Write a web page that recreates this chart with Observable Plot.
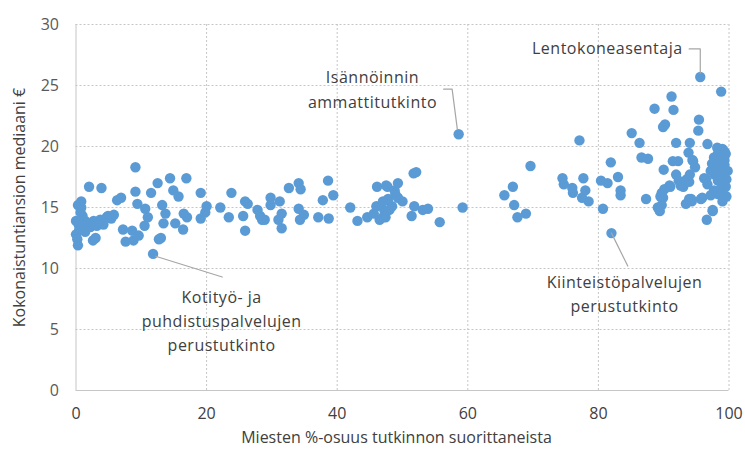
<!DOCTYPE html>
<html><head><meta charset="utf-8">
<script src="https://cdn.jsdelivr.net/npm/d3@7"></script>
<script src="https://cdn.jsdelivr.net/npm/@observablehq/plot@0.6"></script>
<style>body{margin:0;background:#fff} #chart svg{display:block} .anno text{letter-spacing:0.5px}</style>
</head><body><div id="chart"></div>
<script>
// Men's share of qualification completers (%)
const menShare = [
0.8,0.8,0.7,0.0,0.4,1.4,2.7,3.7,4.7,5.8,2.2,3.2,4.2,0.0,1.4,3.0,0.3,2.0,3.9,6.3,6.9,9.1,9.1,9.4,10.6,11.0,11.5,12.5,13.2,13.7,13.4,14.4,14.9,15.2,15.7,16.5,16.9,17.0,16.4,19.1,19.1,19.8,20.0,22.1,23.4,23.8,7.2,8.6,9.6,7.6,8.8,10.5,12.7,13.0,11.8,0.5,0.2,1.0,0.9,0.3,4.9,5.4,2.6,
25.6,25.9,26.3,25.9,27.8,28.2,28.5,28.9,29.8,29.8,31.2,31.0,31.5,31.5,32.6,34.1,34.4,34.1,34.3,34.9,37.1,37.8,38.7,38.6,39.4,42.0,43.1,44.6,46.0,46.1,46.5,47.4,47.7,47.7,48.4,48.9,49.3,
58.6,51.7,52.1,47.5,47.8,49.3,48.8,47.0,47.2,48.0,47.0,51.8,51.4,53.1,53.9,55.7,59.2,65.6,66.9,67.1,67.6,68.9,69.6,45.6,50.0,
74.5,74.7,76.0,76.1,77.1,77.7,78.0,77.5,78.5,80.7,80.4,81.4,81.9,83.0,83.4,83.4,82.0,85.1,86.3,86.6,87.6,87.3,90.0,89.9,90.2,88.6,91.2,91.5,95.4,95.3,91.9,91.4,92.2,91.9,94.0,93.8,94.5,96.7,98.2,89.4,89.1,90.9,90.1,89.9,93.4,93.9,95.9,97.5,96.6,96.5,95.6,98.8,
99.3,94.8,94.0,92.3,93.0,93.5,97.8,98.6,99.3,99.1,91.0,89.7,89.7,94.3,98.3,99.6,
98.5,99.5,97.7,94.4,99.8,97.2,98.0,99.3,99.0,96.2,98.3,99.5,92.6,93.9,96.7,98.5,97.7,99.3,95.7,94.2,89.5,97.5,
99.0,98.0,99.6,98.9,97.2,99.0,98.3,97.4
];
// Median total hourly earnings (€)
const medianWage = [
15.5,15.0,14.6,13.9,13.6,13.9,13.9,14.0,14.2,14.4,13.4,13.5,13.6,12.8,13.0,12.5,11.9,16.7,16.6,15.6,15.8,18.3,16.3,15.3,14.9,14.2,16.2,17.0,15.2,14.5,13.7,17.4,16.4,13.7,15.9,14.5,17.4,14.2,13.2,16.2,14.1,14.6,15.1,15.0,14.2,16.2,13.2,13.1,12.7,12.2,12.3,13.5,12.4,12.5,11.2,13.2,12.4,14.3,13.5,15.2,14.3,14.1,12.3,
14.3,15.5,15.3,13.1,14.8,14.3,14.0,14.0,15.8,15.2,15.5,14.0,14.5,13.3,16.6,17.0,16.5,14.9,14.0,14.4,14.2,15.6,14.1,17.2,16.0,15.0,13.9,14.2,15.1,16.7,14.0,14.2,16.7,15.6,15.1,16.1,17.0,
21.0,17.8,17.9,16.8,15.7,15.8,16.4,15.5,14.8,14.8,14.2,15.1,14.3,14.8,14.9,13.8,15.0,16.0,16.7,15.2,14.2,14.5,18.4,14.5,15.5,
17.4,16.9,16.6,16.2,20.5,17.4,16.4,15.8,15.5,14.9,17.2,17.0,18.7,17.5,16.4,16.0,12.9,21.1,20.3,19.1,19.0,15.7,18.1,21.6,21.8,23.1,24.1,23.0,22.2,21.3,20.3,18.8,18.8,17.7,20.3,19.5,18.8,20.2,19.9,14.7,15.0,16.8,16.5,15.8,15.3,15.7,15.8,14.8,14.0,17.3,25.7,24.5,
19.6,18.3,17.7,17.2,16.7,17.3,17.7,18.0,18.5,19.1,16.7,16.2,15.2,15.5,16.1,15.9,
19.8,19.4,19.1,18.9,18.0,18.0,18.3,18.9,17.8,17.4,17.2,16.7,16.8,17.1,16.9,16.4,16.4,16.0,15.7,15.7,15.9,14.7,
19.8,18.8,17.3,16.9,16.0,15.5,19.4,18.6
];
const xTicks = [0, 20, 40, 60, 80, 100];
const yTicks = [0, 5, 10, 15, 20, 25, 30];
const xTitle = "Miesten %-osuus tutkinnon suorittaneista";
const yTitle = "Kokonaistuntiansion mediaani €";

// Annotation text lines (label, x, y in data units, anchor)
const annoLines = ["Lentokoneasentaja", "Isännöinnin", "ammattitutkinto", "Kotityö- ja", "puhdistuspalvelujen", "perustutkinto", "Kiinteistöpalvelujen", "perustutkinto"];
const annoLineX = [92.9, 45.4, 45.4, 22.3, 22.3, 22.3, 84.0, 84.0];
const annoLineY = [28.0, 25.6, 23.55, 7.6, 5.63, 3.66, 8.85, 6.88];
const annoAnchor = ["end", "middle", "middle", "middle", "middle", "middle", "middle", "middle"];
// Leader lines
const leaderId = [0, 0, 0, 1, 1, 1, 2, 2, 3, 3];
const leaderX = [93.9, 95.6, 95.6, 56.3, 57.6, 58.4, 12.2, 22.4, 82.0, 84.5];
const leaderY = [28.0, 28.0, 26.0, 24.7, 24.7, 21.4, 11.0, 9.3, 12.9, 10.2];

const points = menShare.map((x, i) => ({x, y: medianWage[i]}));
const annos = annoLines.map((t, i) => ({t, x: annoLineX[i], y: annoLineY[i], a: annoAnchor[i]}));
const leaders = leaderId.map((id, i) => ({id, x: leaderX[i], y: leaderY[i]}));

const grey = "#c6c6c6";
const chart = Plot.plot({
  width: 745, height: 453,
  marginLeft: 75.5, marginRight: 16.5, marginTop: 24, marginBottom: 63,
  style: {fontFamily: "'Open Sans', sans-serif", fontSize: "16px", background: "#fff"},
  x: {domain: [0, 100]},
  y: {domain: [0, 30]},
  marks: [
    Plot.gridY(yTicks.filter(d => d > 0), {stroke: grey, strokeOpacity: 1, strokeDasharray: "2,2"}),
    Plot.gridX(xTicks.filter(d => d > 0), {stroke: grey, strokeOpacity: 1, strokeDasharray: "2,2"}),
    Plot.ruleX([0], {stroke: grey}),
    Plot.ruleY([0], {stroke: grey}),
    Plot.axisY(yTicks, {tickSize: 0, tickPadding: 17, label: null, fill: "#595959", fontSize: 16}),
    Plot.axisX(xTicks, {tickSize: 0, tickPadding: 17, label: null, fill: "#404040", fontSize: 16}),
    Plot.text([yTitle], {frameAnchor: "left", dx: -56, rotate: -90, textAnchor: "middle", text: d => d, fill: "#404040", fontSize: 16}),
    Plot.text([xTitle], {frameAnchor: "bottom", dy: 52, dx: -6, textAnchor: "middle", text: d => d, fill: "#404040", fontSize: 16}),
    Plot.dot(points, {x: "x", y: "y", r: 5.2, fill: "#5B9BD5", stroke: "none"}),
    Plot.line(leaders, {x: "x", y: "y", z: "id", stroke: "#a6a6a6", strokeWidth: 1.2}),
    Plot.text(annos.filter(d => d.a === "end"), {x: "x", y: "y", text: "t", textAnchor: "end", fill: "#404040", fontSize: 16, className: "anno"}),
    Plot.text(annos.filter(d => d.a === "middle"), {x: "x", y: "y", text: "t", textAnchor: "middle", fill: "#404040", fontSize: 16, className: "anno"})
  ]
});
document.getElementById("chart").append(chart);
</script>
</body></html>
